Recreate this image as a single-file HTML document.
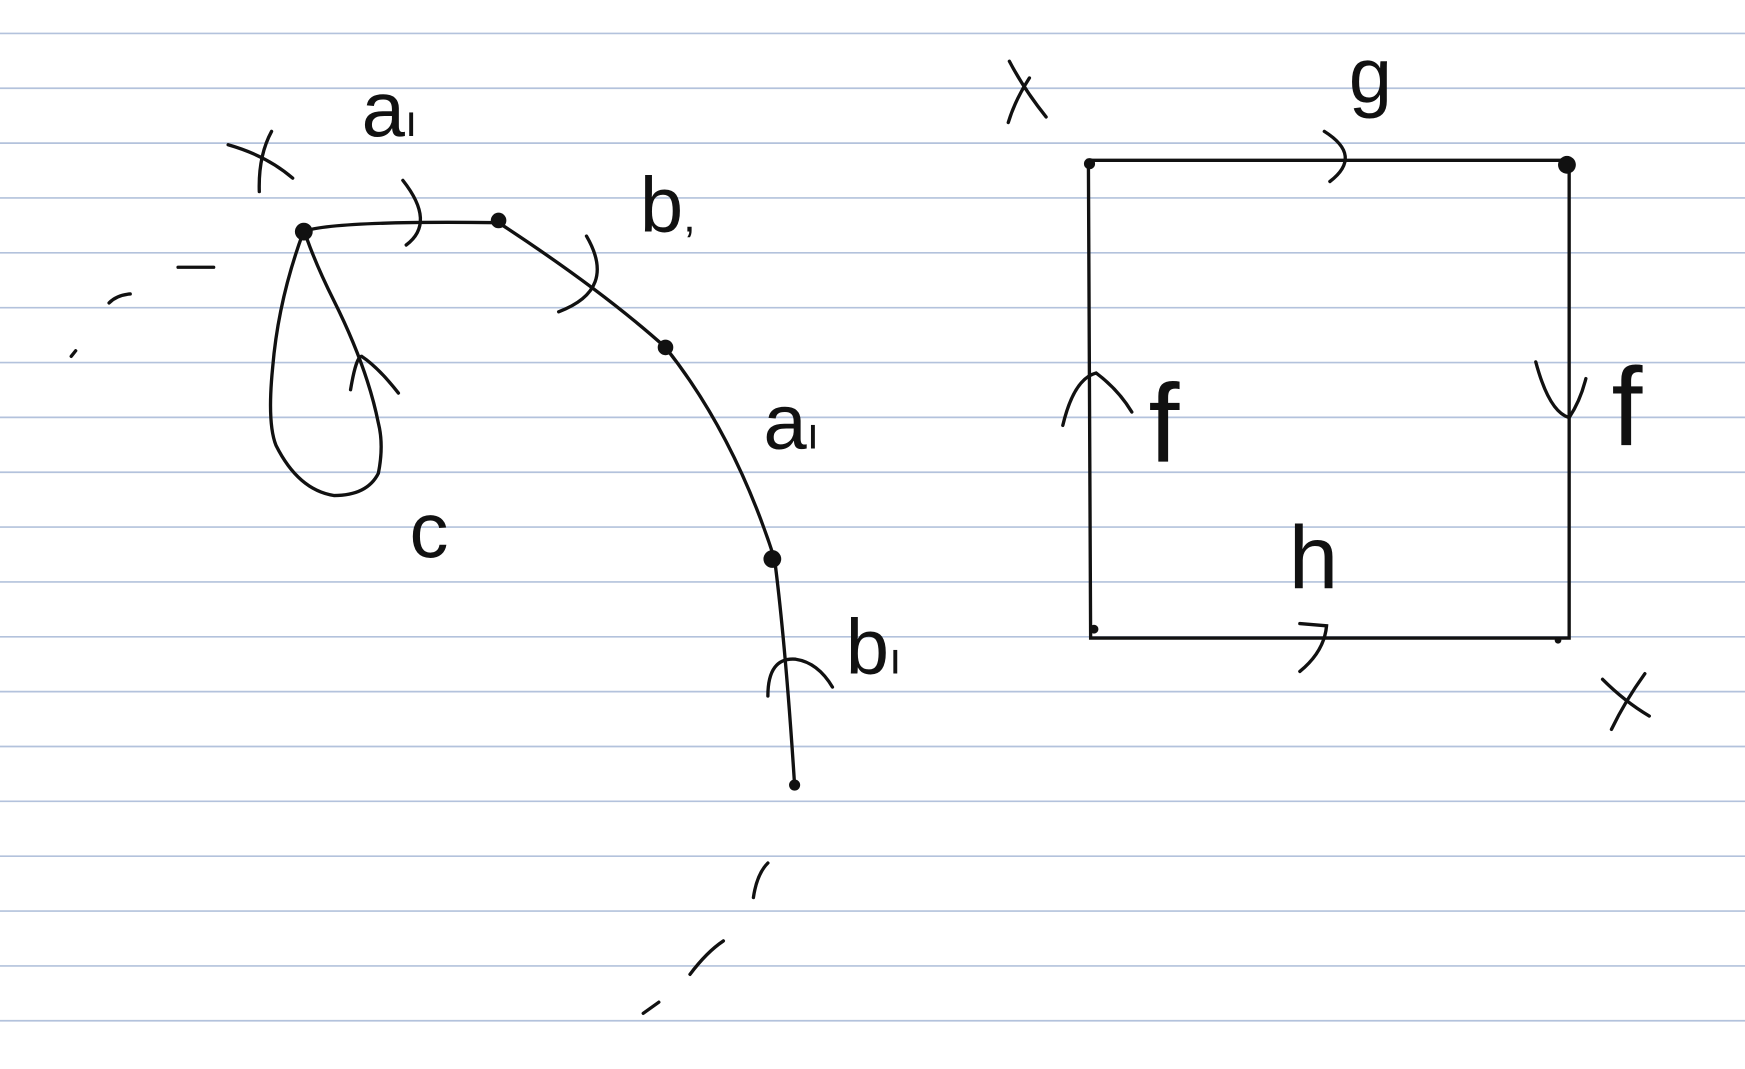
<!DOCTYPE html>
<html><head><meta charset="utf-8"><style>
html,body{margin:0;padding:0;background:#fff;}
svg{display:block;}
text{font-family:"Liberation Sans",sans-serif;fill:#111;}
</style></head><body>
<svg width="1745" height="1069" viewBox="0 0 1568 960" preserveAspectRatio="none">
<rect width="1568" height="960" fill="#fff"/>
<g id="lines" stroke="#b3c2dc" stroke-width="1.5"></g>
<g fill="none" stroke="#111" stroke-width="3" stroke-linecap="round">
<path d="M272 208 Q300 198 448 200 Q540 260 598 312 Q660 390 696 502 Q706 580 714 705"/>
<path d="M272 210 Q250 270 245 330 Q240 380 248 400 Q268 440 300 445 Q330 445 340 425 Q345 400 340 380 Q330 330 300 270 Q285 240 276 215"/>
<path d="M362 162 Q392 200 365 220"/>
<path d="M527 212 Q555 260 502 280"/>
<path d="M315 350 Q320 320 325 320 Q340 330 358 353"/>
<path d="M690 625 Q690 590 715 592 Q735 595 748 617"/>
<path d="M64 320 L68 315 M98 272 Q105 265 117 264 M160 240 L192 240"/>
<path d="M677 806 Q680 785 690 775 M620 875 Q635 855 650 845 M578 910 L592 900"/>
<path d="M205 130 Q240 140 263 160 M244 118 Q232 140 233 172"/>
</g>
<g fill="#111">
<circle cx="273" cy="208" r="8"/><circle cx="448" cy="198" r="7"/><circle cx="598" cy="312" r="7"/><circle cx="694" cy="502" r="8"/><circle cx="714" cy="705" r="5"/>
</g>
<g fill="none" stroke="#111" stroke-width="3" stroke-linecap="round">
<path d="M978 144 L1410 144 L1410 573 L980 573 Z"/>
<path d="M1190 118 Q1225 140 1195 163"/>
<path d="M1168 560 L1192 562 Q1190 585 1168 603"/>
<path d="M955 382 Q965 340 985 335 Q1005 350 1017 370"/>
<path d="M1380 325 Q1392 370 1410 375 Q1420 360 1425 340"/>
<path d="M907 55 Q920 80 940 105 M925 70 Q912 90 906 110"/>
<path d="M1440 610 Q1460 630 1482 643 M1478 605 Q1460 630 1448 655"/>
</g>
<g fill="#111">
<circle cx="979" cy="147" r="5"/><circle cx="1408" cy="148" r="8"/><circle cx="983" cy="565" r="4"/><circle cx="1400" cy="575" r="3"/>
</g>
<g font-size="70">
<text x="325" y="122">a<tspan font-size="40">ı</tspan></text>
<text x="575" y="208">b<tspan font-size="40">,</tspan></text>
<text x="686" y="403">a<tspan font-size="40">ı</tspan></text>
<text x="760" y="605">b<tspan font-size="40">ı</tspan></text>
<text x="368" y="500">c</text>
<text x="1212" y="92">g</text>
<text x="1032" y="415" font-size="100">f</text>
<text x="1448" y="400" font-size="100">f</text>
<text x="1158" y="528" font-size="80">h</text>
</g>
</svg>
<script>
var g=document.getElementById('lines');
for(var i=0;i<19;i++){var y=30+i*49.26;var l=document.createElementNS('http://www.w3.org/2000/svg','line');
l.setAttribute('x1',0);l.setAttribute('x2',1568);l.setAttribute('y1',y);l.setAttribute('y2',y);


g.appendChild(l);}
</script>
</body></html>
